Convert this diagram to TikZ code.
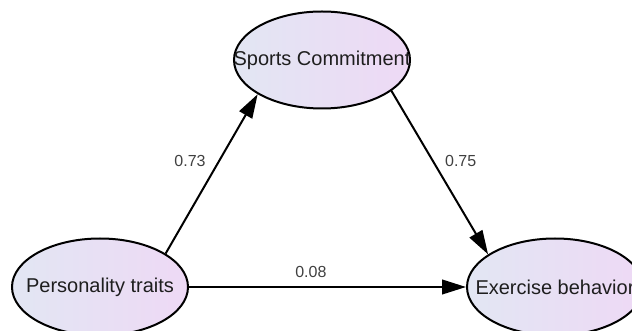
\documentclass[tikz,border=0pt]{standalone}
\usepackage{fontspec}
\setmainfont{Liberation Sans}
\usetikzlibrary{shapes.geometric, arrows.meta, positioning}
\definecolor{shadeL}{RGB}{226,230,243}
\definecolor{shadeR}{RGB}{238,217,245}
\definecolor{ink}{RGB}{30,30,30}
\begin{document}
\begin{tikzpicture}[x=0.75pt, y=-0.75pt, line width=1.5pt,
  main/.style={ellipse, draw, left color=shadeL, right color=shadeR, inner sep=0pt,
    minimum width=132pt, minimum height=72.75pt, text=ink,
    font=\fontsize{15pt}{18pt}\selectfont},
  coef/.style={text=ink!85, font=\fontsize{12pt}{14pt}\selectfont},
  path/.style={-{Triangle[length=18pt, width=11pt]}}]
  \useasboundingbox (0,0) rectangle (632,331);
  \clip (0,0) rectangle (632,331);
  % Nodes
  \node[main] (pt) at (100,287) {\makebox[0pt]{Personality traits}};
  \node[main] (sc) at (322,60) {\makebox[0pt]{Sports Commitment}};
  \node[main] (eb) at (555,287) {\makebox[0pt]{Exercise behavior}};

  % Paths
  \draw[path] (pt.27.6) -- node[coef, pos=0.58, left=6pt] (c1) {0.73} (sc.208);
  \draw[path] (sc.336) -- node[coef, pos=0.43, right=5pt] (c2) {0.75} (eb.154.5);
  \draw[path] (pt.east) -- node[coef, pos=0.44, above=3pt] (c3) {0.08} (eb.west);
\end{tikzpicture}
\end{document}
